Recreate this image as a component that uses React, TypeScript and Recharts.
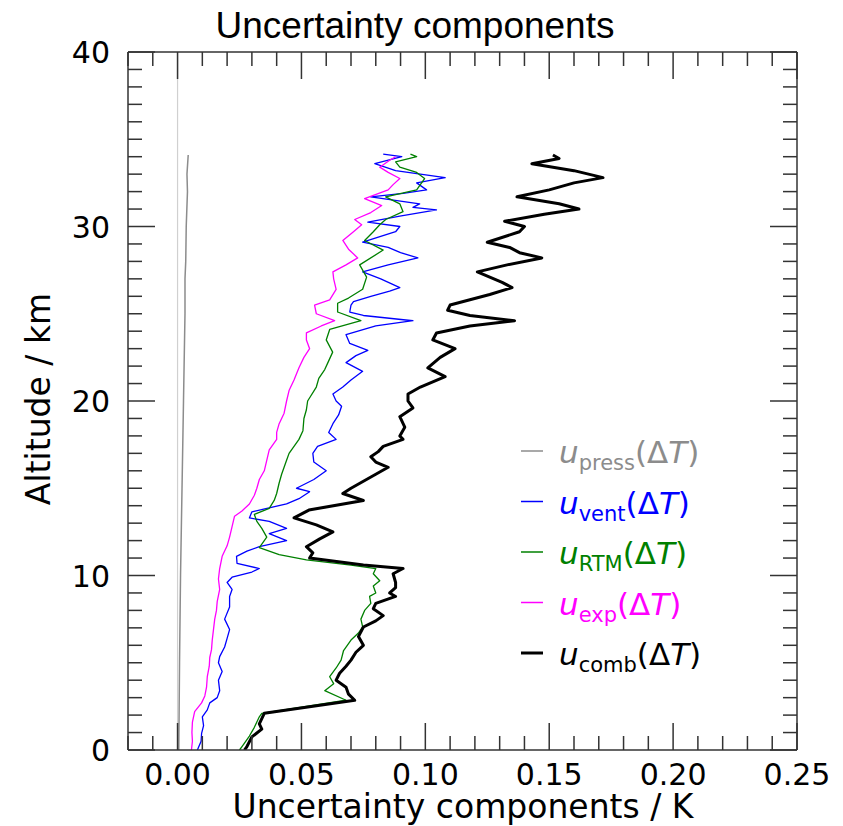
import React from 'react';
import { ComposedChart, Line, XAxis, YAxis, ReferenceLine } from 'recharts';

// ---- tick values ----
const xTicks = [-0.02, -0.01, 0, 0.01, 0.02, 0.03, 0.04, 0.05, 0.06, 0.07, 0.08, 0.09, 0.1, 0.11, 0.12, 0.13, 0.14, 0.15, 0.16, 0.17, 0.18, 0.19, 0.2, 0.21, 0.22, 0.23, 0.24, 0.25];
const xMajorLabels = ['0.00', '0.05', '0.10', '0.15', '0.20', '0.25'];
const yTicks = [0, 1, 2, 3, 4, 5, 6, 7, 8, 9, 10, 11, 12, 13, 14, 15, 16, 17, 18, 19, 20, 21, 22, 23, 24, 25, 26, 27, 28, 29, 30, 31, 32, 33, 34, 35, 36, 37, 38, 39, 40];
const yMajorTicks = [0, 10, 20, 30, 40];

// ---- series: [altitude km, uncertainty K] ----
const uPress = [
  [0, 0.0005], [5, 0.0008], [10, 0.0012], [15, 0.0018], [20, 0.0024], [25, 0.003], [27, 0.003], [28, 0.0033], [30, 0.0035], [32, 0.004], [33, 0.0038], [34.1, 0.0043],
];

const uVent = [
  [0, 0.008], [0.5, 0.0095], [0.95, 0.0097], [1.4, 0.0105], [1.9, 0.01], [2.3, 0.012], [2.7, 0.013], [3.0, 0.016], [3.4, 0.017], [4.0, 0.0165], [4.5, 0.018], [5.0, 0.0165], [5.35, 0.017], [5.9, 0.019], [6.4, 0.02], [6.9, 0.021], [7.5, 0.019], [8.2, 0.021], [8.8, 0.021], [9.2, 0.022], [9.6, 0.02], [9.9, 0.022], [10.2, 0.03], [10.4, 0.033], [10.7, 0.024], [11.1, 0.0238], [11.4, 0.028], [11.65, 0.033], [12.0, 0.044], [12.4, 0.037], [12.7, 0.044], [13.1, 0.037], [13.3, 0.029], [13.65, 0.03], [14.1, 0.044], [14.4, 0.049], [14.8, 0.0533], [15.0, 0.048], [15.5, 0.055], [16.0, 0.06], [16.5, 0.055], [17.0, 0.0546], [17.4, 0.0565], [17.8, 0.064], [18.2, 0.061], [18.7, 0.0627], [19.2, 0.065], [19.7, 0.0662], [20.0, 0.064], [20.4, 0.0627], [20.8, 0.0667], [21.2, 0.07], [21.7, 0.0747], [22.2, 0.068], [22.6, 0.072], [22.9, 0.0768], [23.3, 0.0695], [23.8, 0.068], [24.3, 0.08], [24.6, 0.095], [24.9, 0.075], [25.1, 0.0695], [25.5, 0.07], [25.7, 0.071], [26.0, 0.078], [26.3, 0.0856], [26.5, 0.0897], [27.0, 0.082], [27.4, 0.0747], [27.8, 0.085], [28.2, 0.097], [28.5, 0.09], [28.8, 0.085], [29.1, 0.0747], [29.7, 0.088], [30.0, 0.0897], [30.25, 0.0768], [30.6, 0.0897], [30.95, 0.1045], [31.1, 0.095], [31.3, 0.0977], [31.7, 0.078], [31.9, 0.091], [32.1, 0.1005], [32.5, 0.0965], [32.8, 0.108], [33.2, 0.088], [33.6, 0.0796], [34.0, 0.0905], [34.15, 0.083],
];

const uRtm = [
  [0, 0.025], [0.2, 0.026], [0.8, 0.029], [1.3, 0.031], [1.9, 0.033], [2.1, 0.034], [2.85, 0.068], [3.4, 0.0594], [3.8, 0.063], [4.2, 0.0614], [4.7, 0.064], [5.15, 0.066], [5.7, 0.067], [6.3, 0.07], [6.7, 0.073], [7.05, 0.0747], [7.5, 0.074], [8.0, 0.0755], [8.4, 0.078], [8.8, 0.0775], [9.0, 0.08], [9.4, 0.079], [9.7, 0.0816], [10.1, 0.079], [10.4, 0.08], [10.6, 0.07], [10.9, 0.052], [11.2, 0.041], [11.6, 0.033], [12.2, 0.036], [12.7, 0.034], [13.1, 0.032], [13.5, 0.031], [13.85, 0.037], [14.3, 0.039], [14.7, 0.04], [15.3, 0.041], [15.8, 0.042], [16.2, 0.043], [16.6, 0.044], [17.0, 0.045], [17.4, 0.047], [17.8, 0.049], [18.3, 0.0506], [19.0, 0.051], [19.5, 0.052], [20.0, 0.0525], [20.8, 0.056], [21.3, 0.057], [21.8, 0.0594], [22.3, 0.061], [22.8, 0.0626], [23.5, 0.06], [24.1, 0.0614], [24.6, 0.074], [25.1, 0.0646], [25.6, 0.0646], [25.9, 0.069], [26.4, 0.0747], [27.1, 0.0763], [27.8, 0.0735], [28.65, 0.083], [29.2, 0.0755], [29.7, 0.079], [30.1, 0.0816], [30.4, 0.084], [30.85, 0.091], [31.3, 0.0897], [31.7, 0.084], [32.1, 0.0965], [32.75, 0.0997], [33.1, 0.0965], [33.4, 0.0897], [33.7, 0.088], [34.0, 0.0965], [34.15, 0.094],
];

const uExp = [
  [0, 0.0056], [0.5, 0.006], [1.0, 0.0058], [1.6, 0.006], [2.2, 0.0069], [2.7, 0.0097], [3.1, 0.011], [3.6, 0.0117], [4.2, 0.012], [4.8, 0.0128], [5.3, 0.013], [5.75, 0.0137], [6.3, 0.014], [6.9, 0.0145], [7.5, 0.015], [8.0, 0.0157], [8.5, 0.016], [9.2, 0.017], [9.8, 0.0165], [10.4, 0.017], [11.1, 0.018], [11.7, 0.02], [12.2, 0.021], [12.8, 0.022], [13.4, 0.023], [13.7, 0.026], [14.1, 0.029], [14.6, 0.031], [15.0, 0.032], [15.5, 0.033], [16.0, 0.035], [16.6, 0.036], [17.2, 0.037], [17.8, 0.04], [18.2, 0.04], [18.7, 0.041], [19.3, 0.043], [20.0, 0.044], [20.6, 0.045], [21.2, 0.047], [21.9, 0.049], [22.5, 0.051], [23.0, 0.0533], [23.5, 0.052], [23.9, 0.052], [24.3, 0.058], [24.6, 0.0634], [25.0, 0.056], [25.5, 0.0553], [25.8, 0.0614], [26.4, 0.064], [27.0, 0.063], [27.4, 0.0627], [27.8, 0.068], [28.2, 0.0727], [28.7, 0.069], [29.2, 0.0667], [29.7, 0.071], [30.1, 0.0743], [30.4, 0.0715], [30.8, 0.078], [31.2, 0.0824], [31.6, 0.0755], [32.1, 0.085], [32.4, 0.087], [32.75, 0.0897], [33.1, 0.085], [33.4, 0.0816], [33.8, 0.0856], [34.0, 0.088],
];

const uComb = [
  [0, 0.027], [0.2, 0.028], [0.75, 0.03], [1.2, 0.034], [1.5, 0.033], [1.8, 0.034], [2.1, 0.035], [2.85, 0.0715], [3.2, 0.069], [3.6, 0.068], [4.0, 0.064], [4.4, 0.0654], [4.8, 0.068], [5.15, 0.07], [5.6, 0.072], [6.0, 0.075], [6.5, 0.073], [7.05, 0.075], [7.4, 0.08], [7.7, 0.083], [8.1, 0.079], [8.4, 0.08], [8.8, 0.088], [9.0, 0.0856], [9.3, 0.088], [9.6, 0.088], [10.1, 0.087], [10.4, 0.091], [10.6, 0.075], [11.0, 0.0533], [11.3, 0.0546], [11.65, 0.052], [12.1, 0.0574], [12.5, 0.0627], [12.9, 0.056], [13.3, 0.047], [13.75, 0.053], [14.3, 0.075], [14.7, 0.0667], [15.0, 0.07], [15.4, 0.075], [15.8, 0.08], [16.2, 0.085], [16.5, 0.08], [16.8, 0.078], [17.1, 0.081], [17.4, 0.083], [17.8, 0.091], [18.0, 0.0897], [18.5, 0.0917], [19.1, 0.0897], [19.6, 0.095], [20.0, 0.093], [20.4, 0.093], [20.8, 0.098], [21.4, 0.108], [21.9, 0.101], [22.5, 0.106], [23.0, 0.112], [23.5, 0.103], [23.9, 0.1045], [24.3, 0.118], [24.6, 0.136], [24.9, 0.118], [25.2, 0.109], [25.5, 0.11], [25.8, 0.118], [26.1, 0.126], [26.5, 0.135], [26.8, 0.131], [27.4, 0.121], [27.8, 0.133], [28.2, 0.147], [28.5, 0.138], [28.8, 0.134], [29.1, 0.125], [29.7, 0.138], [30.0, 0.14], [30.3, 0.132], [30.7, 0.148], [31.0, 0.162], [31.3, 0.154], [31.7, 0.137], [32.1, 0.15], [32.5, 0.16], [32.8, 0.1717], [33.2, 0.16], [33.6, 0.143], [33.9, 0.154], [34.1, 0.1515],
];

const seriesNames = ['press', 'vent', 'RTM', 'exp', 'comb'];
const seriesColors = ['#8c8c8c', '#0000ff', '#008000', '#ff00ff', '#000000'];
const seriesWidths = [1.5, 1.3, 1.3, 1.3, 3];
const seriesData = [uPress, uVent, uRtm, uExp, uComb];

const toData = (pts: number[][]) => pts.map(([alt, v]) => ({ alt, v }));

const FRAME = '#333333';
const TICK_W = 1.5;
const MAJOR = 27;
const MINOR = 14;

const xLabelFor = (v: number) => {
  const s = Math.abs(v).toFixed(2);
  return xMajorLabels.includes(s) && v >= -1e-9 ? s : null;
};

const BottomTick = (props: any) => {
  const { x, y, payload } = props;
  const lab = xLabelFor(payload.value);
  return (
    <g>
      <line x1={x} x2={x} y1={y} y2={y - (lab ? MAJOR : MINOR)} stroke={FRAME} strokeWidth={TICK_W} />
      {lab && (
        <text x={x} y={y + 35} textAnchor="middle" fontSize={30} fontFamily="DejaVu Sans" fill="#000">{lab}</text>
      )}
    </g>
  );
};

const TopTick = (props: any) => {
  const { x, y, payload } = props;
  const lab = xLabelFor(payload.value);
  return <line x1={x} x2={x} y1={y} y2={y + (lab ? MAJOR : MINOR)} stroke={FRAME} strokeWidth={TICK_W} />;
};

const LeftTick = (props: any) => {
  const { x, y, payload } = props;
  const major = yMajorTicks.includes(payload.value);
  return (
    <g>
      <line x1={x} x2={x + (major ? MAJOR : MINOR)} y1={y} y2={y} stroke={FRAME} strokeWidth={TICK_W} />
      {major && (
        <text x={x - 18} y={y + 11} textAnchor="end" fontSize={30} fontFamily="DejaVu Sans" fill="#000">{payload.value}</text>
      )}
    </g>
  );
};

const RightTick = (props: any) => {
  const { x, y, payload } = props;
  const major = yMajorTicks.includes(payload.value);
  return <line x1={x} x2={x - (major ? MAJOR : MINOR)} y1={y} y2={y} stroke={FRAME} strokeWidth={TICK_W} />;
};

const LegendBlock = () => (
  <g>
    {seriesNames.map((name, i) => {
      const rowY = 443 + i * 50.5;
      const col = seriesColors[i];
      return (
        <g key={name}>
          <line x1={513} x2={535} y1={rowY} y2={rowY} stroke={col} strokeWidth={i === 4 ? 3 : 1.5} />
          <text x={551} y={rowY + 12} fontSize={31} fontFamily="DejaVu Sans" fill={col}>
            <tspan fontStyle="italic">u</tspan>
            <tspan fontSize={21} dy={7}>{name}</tspan>
            <tspan dy={-7}>(Δ</tspan>
            <tspan fontStyle="italic">T</tspan>
            <tspan>)</tspan>
          </text>
        </g>
      );
    })}
  </g>
);

export default function App() {
  return (
    <ComposedChart width={835} height={818} margin={{ top: 43, right: 45, bottom: 0, left: 0 }}>
      <XAxis
        xAxisId={0}
        type="number"
        dataKey="v"
        orientation="bottom"
        domain={[-0.02, 0.25]}
        allowDataOverflow
        ticks={xTicks}
        interval={0}
        height={76}
        tickSize={0}
        tickMargin={0}
        tickLine={false}
        tick={<BottomTick />}
        axisLine={{ stroke: FRAME, strokeWidth: TICK_W }}
      />
      <XAxis
        xAxisId="top"
        type="number"
        dataKey="v"
        orientation="top"
        domain={[-0.02, 0.25]}
        allowDataOverflow
        ticks={xTicks}
        interval={0}
        height={1}
        tickSize={0}
        tickMargin={0}
        tickLine={false}
        tick={<TopTick />}
        axisLine={{ stroke: FRAME, strokeWidth: TICK_W }}
      />
      <YAxis
        yAxisId={0}
        type="number"
        orientation="left"
        domain={[0, 40]}
        allowDataOverflow
        ticks={yTicks}
        interval={0}
        width={120}
        tickSize={0}
        tickMargin={0}
        tickLine={false}
        tick={<LeftTick />}
        axisLine={{ stroke: FRAME, strokeWidth: TICK_W }}
      />
      <YAxis
        yAxisId="right"
        type="number"
        orientation="right"
        domain={[0, 40]}
        allowDataOverflow
        ticks={yTicks}
        interval={0}
        width={1}
        tickSize={0}
        tickMargin={0}
        tickLine={false}
        tick={<RightTick />}
        axisLine={{ stroke: FRAME, strokeWidth: TICK_W }}
      />
      <ReferenceLine x={0} xAxisId="top" yAxisId="right" stroke="#d0d0d0" strokeWidth={1.2} />
      {seriesData.map((pts, i) => (
        <Line
          key={seriesNames[i]}
          data={toData(pts)}
          dataKey="alt"
          xAxisId={0}
          yAxisId={0}
          type="linear"
          stroke={seriesColors[i]}
          strokeWidth={seriesWidths[i]}
          dot={false}
          activeDot={false}
          isAnimationActive={false}
          strokeLinejoin="round"
        />
      ))}
      <text x={407} y={30} textAnchor="middle" fontSize={37} fontFamily="Liberation Sans" fill="#000">Uncertainty components</text>
      <text x={455} y={810} textAnchor="middle" fontSize={33} fontFamily="DejaVu Sans" fill="#000">Uncertainty components / K</text>
      <text x={42} y={391} transform="rotate(-90 42 391)" textAnchor="middle" fontSize={33} fontFamily="DejaVu Sans" fill="#000">Altitude / km</text>
      <LegendBlock />
    </ComposedChart>
  );
}
